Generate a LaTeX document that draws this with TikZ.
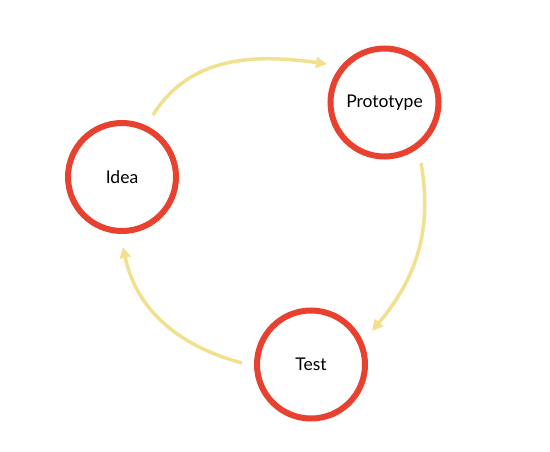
\documentclass[tikz,border=0pt]{standalone}
\usepackage{fontspec}
\setmainfont{Lato}
\usetikzlibrary{arrows.meta}
\definecolor{ringred}{HTML}{E8412F}
\definecolor{loopyellow}{HTML}{F1E08E}

\begin{document}
\begin{tikzpicture}[x=1pt,y=1pt]
    \tikzstyle{stage}=[draw=ringred,circle,line width=6pt,fill=white,
                       minimum size=108pt,inner sep=0pt,
                       font=\fontsize{17.5}{20}\selectfont]
    \tikzstyle{flow}=[draw=loopyellow,line width=3.5pt,
                      -{Triangle[length=11pt,width=11pt]}]
    \useasboundingbox (0,0) rectangle (550,451);

    % The three stages of the loop
    \node (idea) [stage] at (122,274) {Idea};
    \node (proto) [stage] at (384.5,348.5) {Prototype};
    \node (test) [stage] at (311,86.5) {Test};

    % Free ends of the arrows
    \coordinate (ideaout) at (153,336);
    \coordinate (protoin) at (327,387);
    \coordinate (protoout) at (421,288);
    \coordinate (testin) at (372,120);
    \coordinate (testout) at (242,88);
    \coordinate (ideain) at (123,204);

    % And the arrows round the loop
    \draw [flow] (ideaout) to [out=58,in=172] (protoin);
    \draw [flow] (protoout) to [out=-80,in=50] (testin);
    \draw [flow] (testout) to [out=165,in=-78] (ideain);
\end{tikzpicture}
\end{document}
